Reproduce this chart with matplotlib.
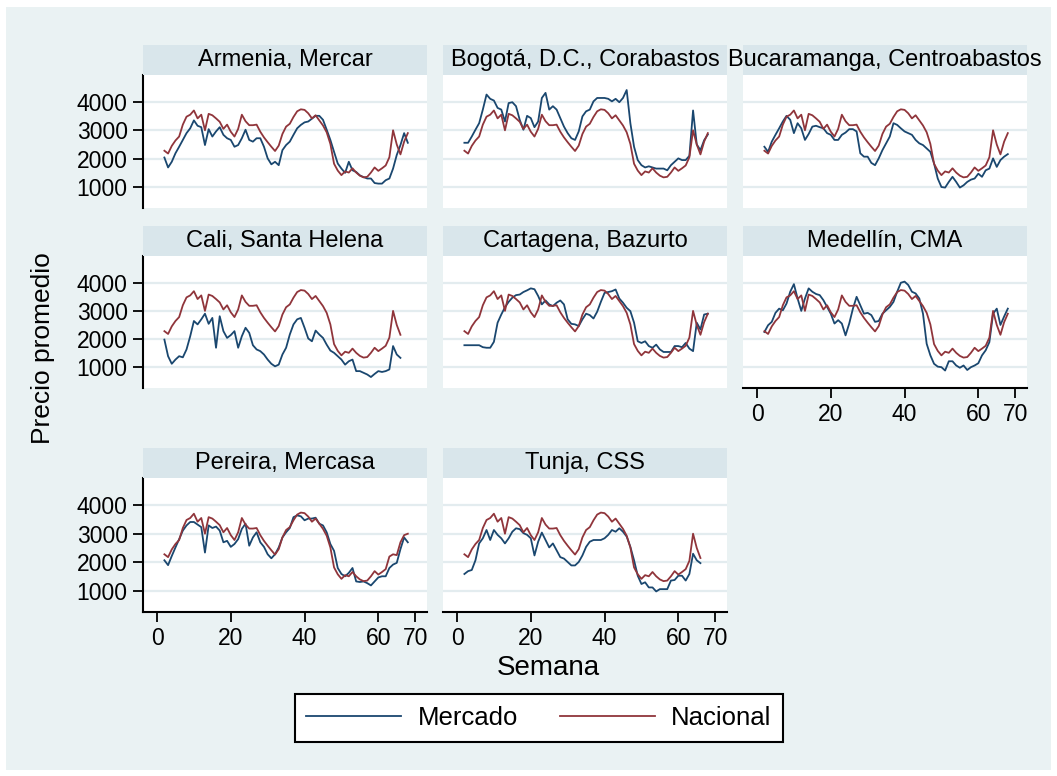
import matplotlib.pyplot as plt
from matplotlib.patches import Rectangle

plt.rcParams['font.family'] = ['Liberation Sans', 'DejaVu Sans']

# weekly average prices, weeks 2..68
semanas = list(range(2, 69))

nacional = [2280, 2180, 2450, 2640, 2780, 3200, 3480, 3550, 3700, 3420,
            3550, 3000, 3580, 3530, 3420, 3300, 3050, 3200, 2950, 2780,
            3050, 3550, 3320, 3180, 3180, 3200, 2950, 2750, 2580, 2420,
            2270, 2460, 2870, 3130, 3230, 3470, 3670, 3740, 3720, 3600,
            3420, 3530, 3350, 3170, 2930, 2520, 1820, 1580, 1420, 1550,
            1510, 1660, 1510, 1400, 1340, 1360, 1510, 1690, 1570, 1660,
            1760, 2050, 3000, 2500, 2150, 2600, 2900]
# the national line in the Pereira panel has no spike at the end (weeks 62..68)
nacional_pereira_fin = [1760, 2200, 2280, 2250, 2700, 2950, 3000]

armenia = [2040, 1690, 1890, 2190, 2420, 2660, 2900, 3070, 3350, 3160,
           3110, 2480, 3040, 2780, 2960, 3110, 2840, 2720, 2660, 2420,
           2480, 2720, 3020, 2660, 2600, 2720, 2720, 2420, 2010, 1800,
           1890, 1770, 2300, 2480, 2600, 2840, 3070, 3190, 3280, 3310,
           3410, 3510, 3510, 3370, 3020, 2660, 2240, 1830, 1650, 1500,
           1890, 1590, 1530, 1410, 1350, 1300, 1300, 1140, 1120, 1120,
           1240, 1300, 1650, 2130, 2480, 2900, 2560]

bogota = [2560, 2560, 2780, 3020, 3250, 3730, 4260, 4110, 4050, 3790,
          3730, 3310, 3960, 3990, 3850, 3370, 3020, 3510, 3430, 3110,
          3310, 4140, 4320, 3730, 3850, 3730, 3430, 3130, 2900, 2720,
          2660, 2960, 3490, 3670, 3730, 4020, 4140, 4140, 4140, 4110,
          4020, 4110, 3990, 4140, 4420, 3250, 2420, 1950, 1770, 1690,
          1730, 1690, 1650, 1650, 1650, 1590, 1770, 1890, 2010, 1950,
          1950, 2100, 3700, 2500, 2300, 2650, 2850]

bucaramanga = [2420, 2240, 2600, 2840, 3070, 3310, 3510, 3370, 2900, 3250,
               3070, 2660, 2870, 3130, 3160, 3110, 3070, 2900, 2840, 2660,
               2660, 2840, 2920, 3040, 3040, 2960, 2190, 2070, 2070, 1850,
               1770, 2010, 2300, 2540, 2780, 3250, 3190, 3070, 2960, 2900,
               2840, 2660, 2540, 2480, 2360, 2240, 1830, 1300, 1000, 980,
               1180, 1360, 1180, 980, 1060, 1180, 1260, 1300, 1470, 1360,
               1590, 1650, 2010, 1710, 1950, 2070, 2160]

cali = [1980, 1390, 1120, 1270, 1390, 1350, 1630, 2100, 2640, 2520,
        2700, 2900, 2540, 2750, 1690, 2810, 2280, 2040, 2140, 2280,
        1690, 2100, 2400, 2220, 1780, 1630, 1570, 1450, 1270, 1120,
        1030, 1090, 1450, 1690, 2160, 2520, 2700, 2750, 2400, 2020,
        1920, 2300, 2160, 2040, 1800, 1590, 1510, 1390, 1270, 1090,
        1210, 1270, 860, 860, 800, 740, 650, 760, 860, 830,
        860, 920, 1750, 1450, 1330]

cartagena = [1780, 1780, 1780, 1780, 1780, 1710, 1690, 1690, 1900, 2580,
             2870, 3130, 3320, 3470, 3560, 3580, 3670, 3730, 3800, 3770,
             3530, 3230, 3370, 3230, 3170, 3290, 3370, 3230, 2700, 2540,
             2520, 2460, 2700, 2900, 2850, 2730, 2970, 3320, 3640, 3670,
             3700, 3760, 3440, 3290, 3110, 2990, 2580, 1920, 1860, 1920,
             1750, 1690, 1800, 1630, 1540, 1540, 1540, 1750, 1750, 1710,
             1860, 1660, 1570, 2580, 2340, 2870, 2900]

medellin = [2250, 2490, 2610, 2930, 3080, 3020, 3260, 3680, 3950, 3440,
            3000, 3440, 3800, 3680, 3600, 3560, 3380, 3140, 2900, 2550,
            2670, 2550, 2130, 2550, 3080, 3500, 3200, 2900, 2930, 2850,
            2610, 2640, 2900, 3020, 3140, 3320, 3680, 4000, 4040, 3920,
            3680, 3620, 3440, 2900, 1830, 1420, 1120, 1020, 1000, 880,
            1210, 1210, 1060, 980, 1060, 900, 1000, 1060, 1140, 1420,
            1600, 1890, 2900, 3080, 2500, 2800, 3080]

pereira = [2070, 1900, 2220, 2520, 2810, 3110, 3290, 3410, 3410, 3320,
           3230, 2340, 3290, 3200, 3250, 3110, 2700, 2750, 2540, 2640,
           2810, 3170, 3350, 2580, 2870, 3050, 2700, 2540, 2280, 2140,
           2280, 2520, 2870, 3050, 3200, 3580, 3640, 3610, 3470, 3530,
           3530, 3560, 3350, 3290, 3050, 2640, 2400, 1800, 1590, 1510,
           1630, 1800, 1330, 1310, 1330, 1270, 1190, 1330, 1470, 1510,
           1510, 1800, 1920, 1980, 2460, 2870, 2700]

tunja = [1590, 1690, 1730, 2070, 2660, 2840, 3130, 2780, 3130, 2960,
         2840, 2660, 2840, 3070, 3190, 3160, 3020, 2960, 2840, 2240,
         2720, 3040, 2780, 2520, 2660, 2420, 2180, 2130, 2010, 1890,
         1890, 2010, 2240, 2540, 2720, 2780, 2780, 2780, 2840, 2960,
         3130, 3070, 3190, 3070, 2900, 2540, 2070, 1530, 1240, 1300,
         1120, 1120, 980, 1060, 1060, 1060, 1360, 1380, 1530, 1530,
         1360, 1590, 2300, 2070, 1970]

paneles = [
    ("Armenia, Mercar", armenia, nacional),
    ("Bogotá, D.C., Corabastos", bogota, nacional),
    ("Bucaramanga, Centroabastos", bucaramanga, nacional),
    ("Cali, Santa Helena", cali, nacional[:len(cali)]),
    ("Cartagena, Bazurto", cartagena, nacional),
    ("Medellín, CMA", medellin, nacional),
    ("Pereira, Mercasa", pereira, nacional[:60] + nacional_pereira_fin),
    ("Tunja, CSS", tunja, nacional[:len(tunja)]),
]

W, H = 1057, 776
navy = '#1A476F'
maroon = '#90353B'
fondo = '#EAF2F3'
banda = '#D9E6EB'


def caja(x0, y0, x1, y1):
    return [x0 / W, 1 - y1 / H, (x1 - x0) / W, (y1 - y0) / H]


fig = plt.figure(figsize=(W / 100, H / 100), dpi=100)
fig.patch.set_facecolor('white')
fig.patches.append(Rectangle((6 / W, 1 - 770 / H), (1051 - 6) / W, (770 - 7) / H,
                             transform=fig.transFigure, facecolor=fondo,
                             edgecolor='none', zorder=-10))

col_x = [143, 443, 743]
fila_y = [(75, 208), (256, 388), (478, 612)]
ancho = 284
abajo = {"Medellín, CMA", "Pereira, Mercasa", "Tunja, CSS"}

lineas = None
for i, (titulo, mercado, nac) in enumerate(paneles):
    fila, col = divmod(i, 3)
    x0 = col_x[col]
    top, bot = fila_y[fila]

    ax = fig.add_axes(caja(x0, top, x0 + ancho, bot))
    ax.set_facecolor('white')
    ax.set_xlim(-3.8, 73.2)
    ax.set_ylim(260, 4950)
    ax.set_yticks([1000, 2000, 3000, 4000])
    ax.set_xticks([0, 20, 40, 60, 70])
    ax.grid(axis='y', color='#E3ECEF', lw=1.6, zorder=0)
    ax.set_axisbelow(True)

    n = len(mercado)
    l1, = ax.plot(semanas[:n], mercado, color=navy, lw=1.3)
    l2, = ax.plot(semanas[:len(nac)], nac, color=maroon, lw=1.3)
    if lineas is None:
        lineas = [l1, l2]

    for s in ax.spines.values():
        s.set_visible(False)
    ax.tick_params(labelsize=16.5, length=7, width=1.3, pad=4, colors='black')
    if col == 0:
        ax.spines['left'].set_visible(True)
        ax.spines['left'].set_linewidth(1.5)
    else:
        ax.tick_params(axis='y', left=False, labelleft=False)
    if titulo in abajo:
        ax.spines['bottom'].set_visible(True)
        ax.spines['bottom'].set_linewidth(1.5)
    else:
        ax.tick_params(axis='x', bottom=False, labelbottom=False)

    tax = fig.add_axes(caja(x0, top - 30, x0 + ancho, top))
    tax.set_facecolor(banda)
    tax.set_xticks([])
    tax.set_yticks([])
    for s in tax.spines.values():
        s.set_visible(False)
    tax.text(0.5, 0.5, titulo, ha='center', va='center', fontsize=17,
             transform=tax.transAxes, clip_on=False)

fig.text(43 / W, 1 - 348 / H, 'Precio promedio', rotation=90,
         ha='center', va='center', fontsize=19)
fig.text(548 / W, 1 - 668 / H, 'Semana', ha='center', va='center', fontsize=20)

leg = fig.legend(lineas, ['Mercado', 'Nacional'], loc='center',
                 bbox_to_anchor=(539 / W, 1 - 718 / H), ncol=2, fontsize=18.5,
                 frameon=True, fancybox=False, edgecolor='black', framealpha=1,
                 handlelength=3.7, handletextpad=0.65, columnspacing=1.6,
                 borderpad=0.45)
leg.get_frame().set_linewidth(1.5)

fig.savefig('out.png', dpi=100)
